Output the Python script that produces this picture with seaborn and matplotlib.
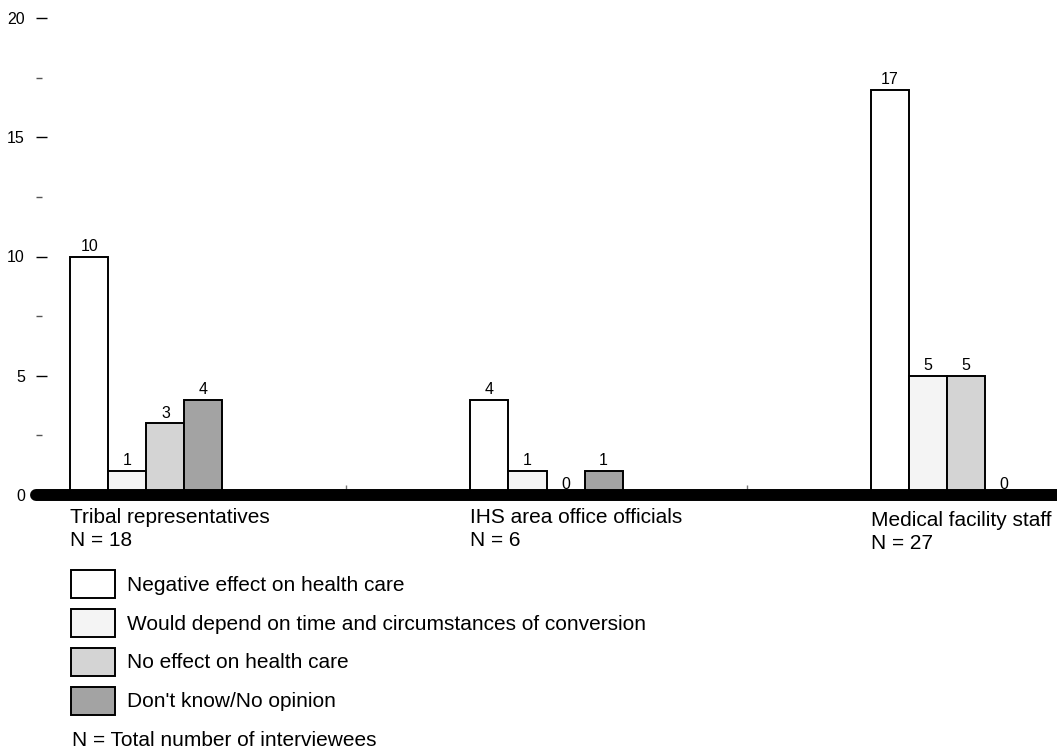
import matplotlib
matplotlib.use("Agg")
import matplotlib.pyplot as plt
import pandas as pd
import seaborn as sns

# 데이터
groups = ["Tribal representatives", "IHS area office officials", "Medical facility staff"]
group_n = [18, 6, 27]
responses = [
    "Negative effect on health care",
    "Would depend on time and circumstances of conversion",
    "No effect on health care",
    "Don't know/No opinion",
]
negative = [10, 4, 17]
depends = [1, 1, 5]
no_effect = [3, 0, 5]
dont_know = [4, 1, 0]
colors = ["#FFFFFF", "#F4F4F4", "#D4D4D4", "#A3A3A3"]
footnote = "N = Total number of interviewees"

df = pd.DataFrame(
    [
        {"group": g, "response": r, "count": v}
        for r, vals in zip(responses, [negative, depends, no_effect, dont_know])
        for g, v in zip(groups, vals)
    ]
)

sns.set_style("white")
plt.rcParams["font.family"] = ["Liberation Sans", "DejaVu Sans"]
plt.rcParams["text.color"] = "black"
plt.rcParams["ytick.labelcolor"] = "black"

fig = plt.figure(figsize=(10.57, 7.49), dpi=100)
ax = fig.add_axes([36 / 1057, 254 / 749, 1021 / 1057, 477 / 749])

sns.barplot(
    data=df, x="group", y="count", hue="response",
    order=groups, hue_order=responses, palette=dict(zip(responses, colors)),
    width=0.38, saturation=1, edgecolor="black", linewidth=1.4,
    errorbar=None, ax=ax,
)
for c in ax.containers:
    ax.bar_label(c, fmt="%d", padding=2, fontsize=11.5, color="black")

ax.set_xlim(-0.276, 2.276)
ax.set_ylim(0, 20)
ax.set_xlabel("")
ax.set_ylabel("")

# y축 눈금
ax.set_yticks([0, 5, 10, 15, 20])
ax.set_yticks([2.5, 7.5, 12.5, 17.5], minor=True)
ax.tick_params(axis="y", which="major", direction="in", length=8, width=1.0,
               color="black", labelcolor="black", pad=8, labelsize=11.5, left=True)
ax.tick_params(axis="y", which="minor", direction="in", length=4.3, width=1.0,
               color="#555555", left=True)

# x축: 그룹 사이 작은 눈금만
ax.set_xticks([0, 1, 2])
ax.set_xticklabels([])
ax.set_xticks([0.5, 1.5], minor=True)
ax.tick_params(axis="x", which="major", length=0)
ax.tick_params(axis="x", which="minor", direction="in", length=7, width=1,
               color="#777777", bottom=True)

for side in ["left", "right", "top"]:
    ax.spines[side].set_visible(False)
ax.spines["bottom"].set_linewidth(8.6)
ax.spines["bottom"].set_capstyle("round")
ax.spines["bottom"].set_color("black")
ax.spines["bottom"].set_zorder(5)

# 그룹 이름 + N
for i, (g, n) in enumerate(zip(groups, group_n)):
    dy = -11.5 if i == 2 else -9.3
    ax.annotate(f"{g}\nN = {n}", xy=(i - 0.19, 0), xytext=(0, dy),
                textcoords="offset points", ha="left", va="top",
                fontsize=15, linespacing=1.26, color="black")

sns.move_legend(
    ax, "upper left", bbox_to_anchor=(71 / 1057, 1 - 570 / 749),
    bbox_transform=fig.transFigure, frameon=False, title=None,
    fontsize=15, handlelength=2.12, handleheight=1.68,
    labelspacing=0.53, handletextpad=0.55, borderpad=0, borderaxespad=0,
)
for t in ax.get_legend().get_texts():
    t.set_color("black")

fig.text(72 / 1057, 1 - 740 / 749, footnote, ha="left", va="center",
         fontsize=15, color="black")

fig.savefig("out.png", dpi=100)
